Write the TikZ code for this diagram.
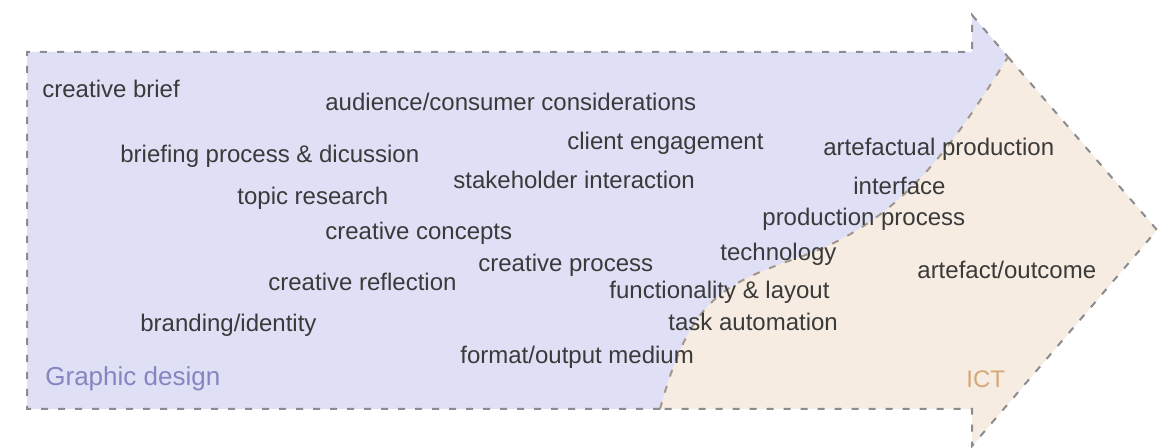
\documentclass[tikz,border=0pt]{standalone}
\usepackage{fontspec}
\setmainfont{Liberation Sans}
\definecolor{gdfill}{HTML}{DFDFF6}
\definecolor{ictfill}{HTML}{F7ECE1}
\definecolor{edgegray}{HTML}{8C8C8C}
\definecolor{curvegray}{HTML}{A3978B}
\definecolor{txt}{HTML}{3A3A3A}
\definecolor{gdtxt}{HTML}{8585C2}
\definecolor{icttxt}{HTML}{D6A878}
\begin{document}
\begin{tikzpicture}[x=0.5pt,y=-0.5pt,
  term/.style={anchor=base west,inner sep=0pt,text=txt,font=\fontsize{12}{14}\selectfont},
  edge/.style={draw=edgegray,line width=1pt,dash pattern=on 3.5pt off 5pt},
  cedge/.style={draw=curvegray,line width=1pt,dash pattern=on 3.5pt off 5pt}]
\useasboundingbox (0,0) rectangle (1158,448);
% coordinates
\coordinate (tl) at (27,52);
\coordinate (nt) at (972,52);
\coordinate (ht) at (972,15);
\coordinate (tip) at (1157,230);
\coordinate (hb) at (972,446);
\coordinate (nb) at (972,409);
\coordinate (bl) at (27,409);
\coordinate (cs) at (660,409);
\coordinate (ce) at (1008,57);
\coordinate (cm) at (800,257);
% blue arrow
\fill[gdfill] (tl) -- (nt) -- (ht) -- (tip) -- (hb) -- (nb) -- (bl) -- cycle;
% orange region
\fill[ictfill] (cs) .. controls (690,300) and (720,285) .. (cm) .. controls (900,222) and (950,150) .. (ce) -- (tip) -- (hb) -- (nb) -- cycle;
% outlines
\draw[edge] (cs) -- (bl) -- (tl) -- (nt) -- (ht) -- (ce);
\draw[edge] (ce) -- (tip) -- (hb) -- (nb) -- (cs);
\draw[cedge] (cs) .. controls (690,300) and (720,285) .. (cm) .. controls (900,222) and (950,150) .. (ce);
% texts
\node[term] (t1) at (42,98) {creative brief};
\node[term] (t2) at (325,111) {audience/consumer considerations};
\node[term] (t3) at (567,150) {client engagement};
\node[term] (t4) at (120,163) {briefing process \& dicussion};
\node[term] (t5) at (823,156) {artefactual production};
\node[term] (t6) at (453,189) {stakeholder interaction};
\node[term] (t7) at (853,195) {interface};
\node[term] (t8) at (237,205) {topic research};
\node[term] (t9) at (762,226) {production process};
\node[term] (t10) at (325,240) {creative concepts};
\node[term] (t11) at (720,261) {technology};
\node[term] (t12) at (478,272) {creative process};
\node[term] (t13) at (917,279) {artefact/outcome};
\node[term] (t14) at (268,291) {creative reflection};
\node[term] (t15) at (609,299) {functionality \& layout};
\node[term] (t16) at (140,332) {branding/identity};
\node[term] (t17) at (668,331) {task automation};
\node[term] (t18) at (460,364) {format/output medium};
\node[term,text=gdtxt,font=\fontsize{13}{15}\selectfont] (gd) at (45,386) {Graphic design};
\node[term,text=icttxt] (ict) at (966,388) {ICT};
\end{tikzpicture}
\end{document}
